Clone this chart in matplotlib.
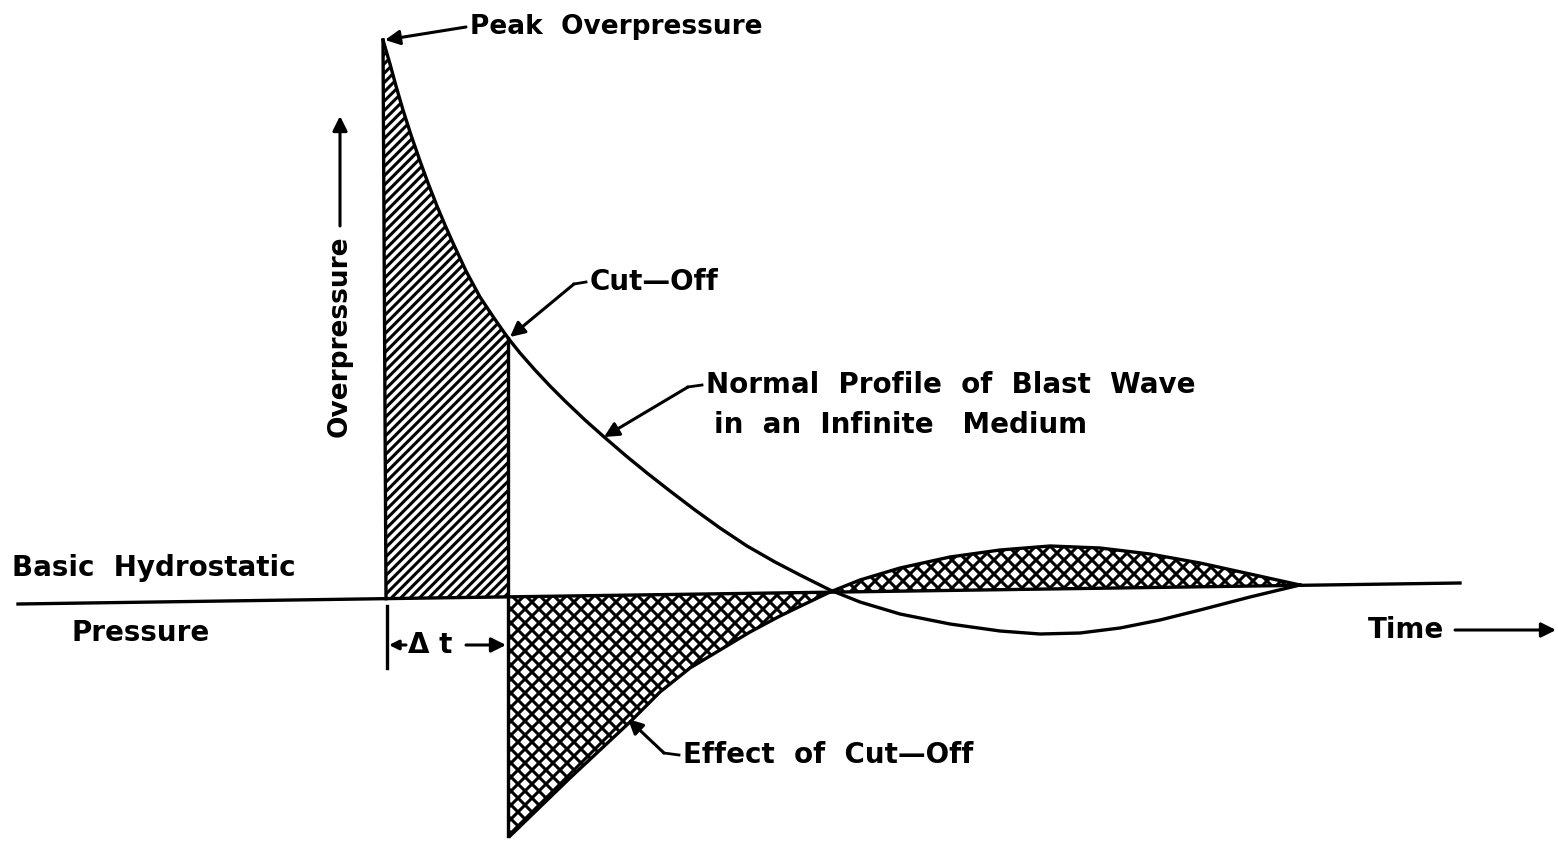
import matplotlib.pyplot as plt

# la trama se dibuja en celdas de 1 pulgada; con dpi 84 sale del tamaño del original
DPI = 84
k = 100 / DPI
plt.rcParams['hatch.linewidth'] = 2.2 * k

# curva normal de la onda (coordenadas, x=tiempo, y=presion invertida)
perfil_x = [383, 390, 396, 403, 411, 420, 428, 437, 445, 453, 466, 480, 494, 508,
            520, 535, 550, 565, 585, 603, 625, 647, 670, 695, 720, 747, 775, 800, 830,
            860, 900, 950, 1000, 1040, 1080, 1120, 1160, 1200, 1250, 1300]
perfil_y = [40, 64, 86, 110, 135, 161, 183, 206, 225, 243, 271, 297, 318, 338,
            353, 370, 386, 401, 420, 436, 455, 473, 491, 510, 528, 546, 562, 575, 590,
            602, 614, 624, 631, 634, 633, 628, 620, 610, 597, 585]

# efecto del corte (parte negativa)
corte_x = [510, 540, 570, 600, 630, 660, 690, 720, 750, 780, 807, 830]
corte_y = [836, 807, 778, 750, 722, 692, 668, 650, 632, 616, 603, 592]

# lobulo positivo despues del cruce
lobulo_x = [830, 860, 900, 950, 1000, 1050, 1100, 1150, 1200, 1250, 1300]
lobulo_y = [592, 580, 568, 557, 550, 546, 548, 554, 563, 574, 585]

# linea base (presion hidrostatica)
base_x = [18, 1460]
base_y = [604, 583]

t_pico = 383
t_corte = 508


def base_en(x):
    return base_y[0] + (base_y[1] - base_y[0]) * (x - base_x[0]) / (base_x[1] - base_x[0])


fig = plt.figure(figsize=(1558 / DPI, 841 / DPI), dpi=DPI)
ax = fig.add_axes([0, 0, 1, 1])
ax.set_xlim(0, 1558)
ax.set_ylim(841, 0)
ax.axis('off')

lw = 2.4 * k

# zona rayada (impulso positivo hasta el corte)
n = perfil_x.index(t_corte)
px = [t_pico + 3] + perfil_x[:n + 1] + [t_corte]
py = [base_en(t_pico + 3)] + perfil_y[:n + 1] + [base_en(t_corte)]
ax.fill(px, py, facecolor='none', edgecolor='black', hatch='///', linewidth=0)

# zona cuadriculada negativa
nx = [t_corte, 830] + corte_x[::-1]
ny = [base_en(t_corte), base_en(830)] + corte_y[::-1]
ax.fill(nx, ny, facecolor='none', edgecolor='black', hatch='xx', linewidth=0)

# lobulo positivo cuadriculado
lx = lobulo_x + [lobulo_x[0]]
ly = lobulo_y + [base_en(lobulo_x[0])]
ax.fill(lx, ly, facecolor='none', edgecolor='black', hatch='xx', linewidth=0)

# lineas principales
ax.plot(base_x, base_y, color='black', lw=lw)
ax.plot(perfil_x, perfil_y, color='black', lw=lw)
ax.plot([t_pico, t_pico + 3], [perfil_y[0], base_en(t_pico + 3)], color='black', lw=lw)
ax.plot([t_corte, t_corte], [perfil_y[n], corte_y[0]], color='black', lw=lw)
ax.plot(corte_x, corte_y, color='black', lw=lw)
ax.plot(lobulo_x, lobulo_y, color='black', lw=lw)

# marca de delta t
ax.plot([387, 387], [606, 668], color='black', lw=lw)

flecha = dict(arrowstyle='-|>', color='black', lw=2.2 * k, mutation_scale=22 * k,
              shrinkA=0, shrinkB=0)
fs = 20 * k
texto = dict(fontsize=fs, fontweight='bold', family='DejaVu Sans', va='center', ha='left')

# etiquetas con flechas
ax.text(470, 27, 'Peak  Overpressure', fontsize=19 * k, fontweight='bold', va='center', ha='left')
ax.annotate('', xy=(385, 40), xytext=(466, 27), arrowprops=flecha)

ax.text(590, 282, 'Cut\u2014Off', **texto)
ax.plot([586, 574], [282, 284], color='black', lw=2 * k)
ax.annotate('', xy=(510, 337), xytext=(574, 284), arrowprops=flecha)

ax.text(706, 385, 'Normal  Profile  of  Blast  Wave', **texto)
ax.text(714, 425, 'in  an  Infinite   Medium', **texto)
ax.plot([702, 688], [385, 387], color='black', lw=2 * k)
ax.annotate('', xy=(604, 437), xytext=(688, 387), arrowprops=flecha)

ax.text(683, 755, 'Effect  of  Cut\u2014Off', **texto)
ax.plot([679, 664], [755, 753], color='black', lw=2 * k)
ax.annotate('', xy=(628, 719), xytext=(664, 753), arrowprops=flecha)

ax.text(12, 568, 'Basic  Hydrostatic', **texto)
ax.text(72, 633, 'Pressure', **texto)

ax.text(1368, 630, 'Time', **texto)
ax.annotate('', xy=(1556, 630), xytext=(1455, 630), arrowprops=flecha)

ax.text(340, 336, 'Overpressure', rotation=90, fontsize=19 * k, fontweight='bold',
        va='center', ha='center')
ax.annotate('', xy=(340, 116), xytext=(340, 226), arrowprops=flecha)

ax.text(430, 645, '\u0394 t', fontsize=fs, fontweight='bold', va='center', ha='center')
ax.annotate('', xy=(389, 645), xytext=(406, 645), arrowprops=dict(flecha, mutation_scale=14 * k))
ax.annotate('', xy=(506, 645), xytext=(466, 645), arrowprops=flecha)

fig.savefig('out.png', dpi=DPI, facecolor='white')
